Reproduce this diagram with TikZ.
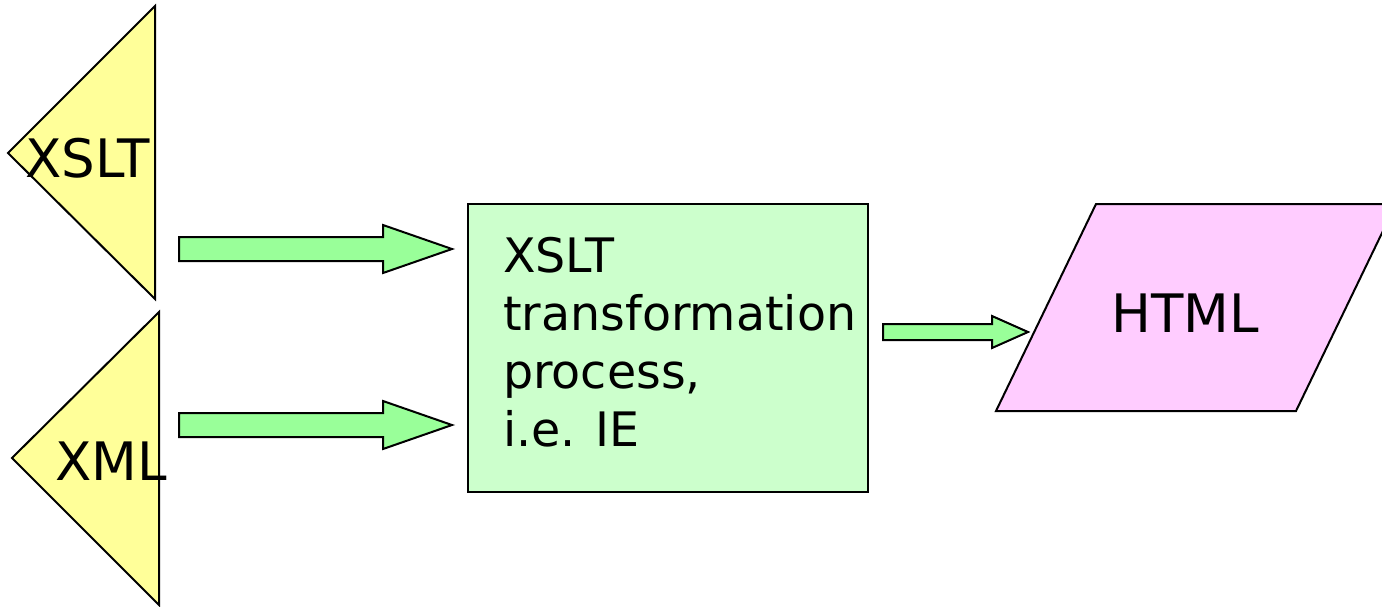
\documentclass[tikz,border=0pt]{standalone}
\usepackage{fontspec}
\setmainfont{DejaVu Sans}
\definecolor{srcyellow}{HTML}{FFFF99}
\definecolor{arrowgreen}{HTML}{99FF99}
\definecolor{procgreen}{HTML}{CCFFCC}
\definecolor{outpink}{HTML}{FFCCFF}
\tikzset{
  outline/.style={draw=black, line width=2pt, line join=miter},
  srcshape/.style={outline, fill=srcyellow},
  procbox/.style={outline, fill=procgreen, inner sep=0pt},
  outshape/.style={outline, fill=outpink},
  blockarrow/.style={outline, fill=arrowgreen},
  bigtext/.style={inner sep=0pt, font=\fontsize{47.5}{58}\selectfont},
  labeltext/.style={inner sep=0pt, font=\fontsize{53}{60}\selectfont},
}
\begin{document}
\begin{tikzpicture}[x=1pt, y=-1pt]
  \clip (0,0) rectangle (1382,606);

  % input documents
  \draw[srcshape] (155,6) -- (8,153) -- (155,299) -- cycle;
  \node[labeltext, anchor=base west] (xsltsrc) at (25,177) {XSLT};
  \draw[srcshape] (159,312) -- (12,458) -- (159,605) -- cycle;
  \node[labeltext, anchor=base west] (xmlsrc) at (55,480) {XML};

  % processor
  \node[procbox, anchor=north west, minimum width=400pt, minimum height=288pt] (proc) at (467,203) {};
  \node[bigtext, anchor=north west, align=left] (proctext) at (503,237)
    {XSLT\\transformation\\process,\\i.e. IE};

  % output document
  \draw[outshape] (1096,204) -- (1396,204) -- (1296,411) -- (996,411) -- cycle;
  \node[labeltext, anchor=base] (html) at (1185,332) {HTML};

  % flow arrows
  \coordinate (a1) at (179,249);
  \coordinate (a2) at (179,425);
  \coordinate (a3) at (883,332);
  \draw[blockarrow] ([yshift=12pt]a1) -- ++(204,0) -- ++(0,-12) -- ++(69,24) -- ++(-69,24) -- ++(0,-12) -- ++(-204,0) -- cycle;
  \draw[blockarrow] ([yshift=12pt]a2) -- ++(204,0) -- ++(0,-12) -- ++(69,24) -- ++(-69,24) -- ++(0,-12) -- ++(-204,0) -- cycle;
  \draw[blockarrow] ([yshift=8pt]a3) -- ++(109,0) -- ++(0,-8) -- ++(36,16) -- ++(-36,16) -- ++(0,-8) -- ++(-109,0) -- cycle;
\end{tikzpicture}
\end{document}
